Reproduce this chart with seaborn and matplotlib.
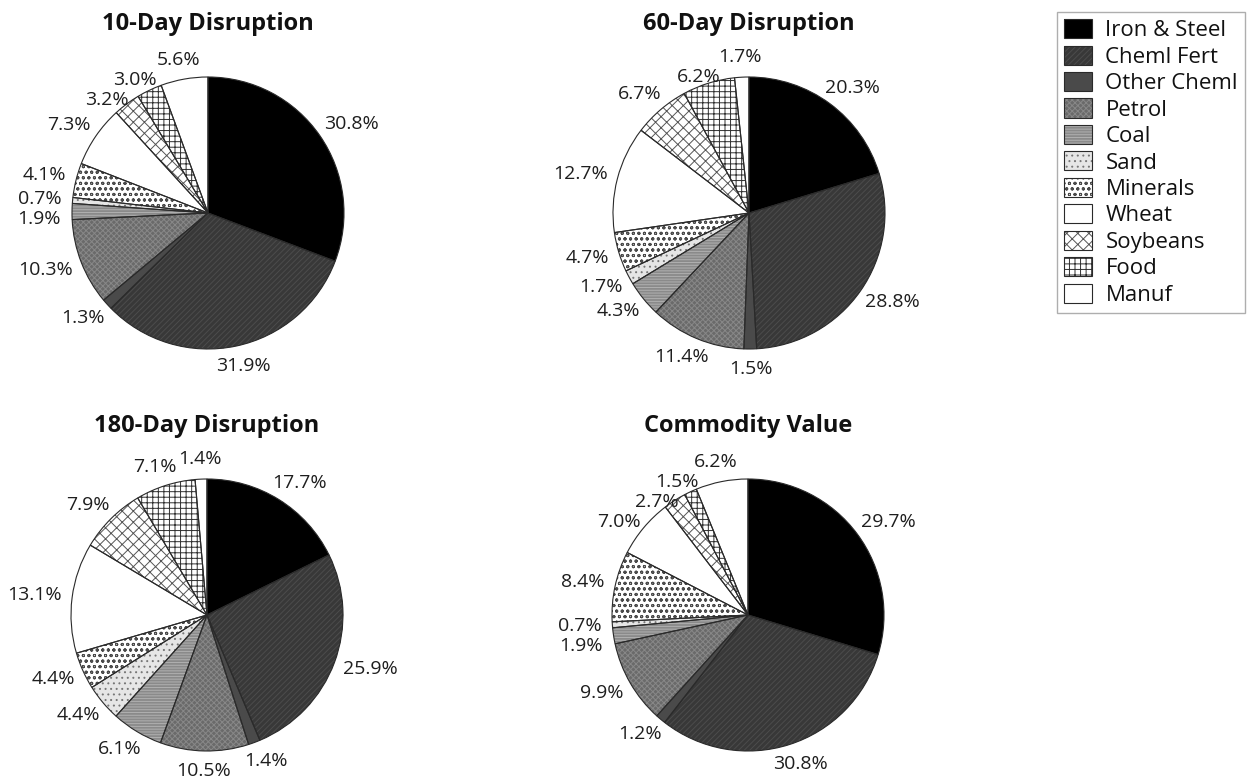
import numpy as np
import matplotlib
matplotlib.use("Agg")
import matplotlib.pyplot as plt
import seaborn as sns
from matplotlib.patches import Patch
from matplotlib.legend_handler import HandlerTuple

# ---- data -------------------------------------------------------------
commodities = ["Iron & Steel", "Cheml Fert", "Other Cheml", "Petrol", "Coal",
               "Sand", "Minerals", "Wheat", "Soybeans", "Food", "Manuf"]

disruption_10 = [30.8, 31.9, 1.3, 10.3, 1.9, 0.7, 4.1, 7.3, 3.2, 3.0, 5.6]
disruption_60 = [20.3, 28.8, 1.5, 11.4, 4.3, 1.7, 4.7, 12.7, 6.7, 6.2, 1.7]
disruption_180 = [17.7, 25.9, 1.4, 10.5, 6.1, 4.4, 4.4, 13.1, 7.9, 7.1, 1.4]
commodity_value = [29.7, 30.8, 1.2, 9.9, 1.9, 0.7, 8.4, 7.0, 2.7, 1.5, 6.2]

panel_titles = ["10-Day Disruption", "60-Day Disruption",
                "180-Day Disruption", "Commodity Value"]

# ---- styling ----------------------------------------------------------
fill_colors = ["#000000", "#383838", "#4a4a4a", "#6a6a6a", "#8a8a8a",
               "#e6e6e6", "#ffffff", "#ffffff", "#ffffff", "#ffffff", "#ffffff"]
hatches = [None, "//////", None, "xxxxxx", "------", "...", "ooo", None,
           "xxx", "+++", None]
hatch_colors = ["#000000", "#4c4c4c", "#4a4a4a", "#888888", "#b0b0b0",
                "#777777", "#4a4a4a", "#ffffff", "#555555", "#303030", "#ffffff"]
edge_color = "#2a2a2a"

sns.set_theme(style="white")
plt.rcParams["font.family"] = ["Open Sans", "DejaVu Sans"]
plt.rcParams["hatch.linewidth"] = 0.7

W, H, DPI = 1248, 780, 100
fig = plt.figure(figsize=(W / DPI, H / DPI), dpi=DPI)
fig.patch.set_facecolor("white")

R_PX = 136.0          # pie radius in pixels
HALF = 1.55           # axes half-extent in data units
centers_px = [(208, 213), (749, 213), (207, 615), (748, 615)]
series = [disruption_10, disruption_60, disruption_180, commodity_value]

LABEL_SIZE = 14
LABEL_COLOR = "#1e1e1e"


def draw_pie(ax, values):
    wedges, _ = ax.pie(values, startangle=90, counterclock=False,
                       colors=fill_colors, radius=1.0,
                       wedgeprops=dict(linewidth=0))
    for w, h, hc in zip(wedges, hatches, hatch_colors):
        w.set_edgecolor(hc)
        w.set_linewidth(0)
        if h:
            w.set_hatch(h)
    ax.pie(values, startangle=90, counterclock=False, radius=1.0,
           colors=["none"] * len(values),
           wedgeprops=dict(edgecolor=edge_color, linewidth=0.8, fill=False))


def place_labels(ax, values):
    renderer = fig.canvas.get_renderer()
    p0 = ax.transData.transform((0, 0))
    p1 = ax.transData.transform((1, 0))
    ppu = p1[0] - p0[0]
    total = float(sum(values))
    cum = np.concatenate([[0.0], np.cumsum(values)])
    items = []
    for i, v in enumerate(values):
        frac = (cum[i] + cum[i + 1]) / 2.0 / total
        theta = np.deg2rad(90.0 - 360.0 * frac)
        dx, dy = np.cos(theta), np.sin(theta)
        t = ax.text(0, 0, f"{v:.1f}%", ha="center", va="center",
                    fontsize=LABEL_SIZE, color=LABEL_COLOR, clip_on=False)
        bb = t.get_window_extent(renderer)
        w, h = bb.width / ppu, bb.height / ppu
        x = dx * 1.08 + dx * w / 2.0
        y = dy * 1.08 + dy * h / 2.0
        items.append({"t": t, "x": x, "y": y, "w": w, "h": h, "side": dx < 0})
    gap = 0.147
    for side in (True, False):
        grp = sorted([it for it in items if it["side"] == side],
                     key=lambda it: -it["y"])
        for j in range(1, len(grp)):
            for k in range(j):
                a, b = grp[k], grp[j]
                if abs(a["x"] - b["x"]) < (a["w"] + b["w"]) / 2.0 and a["y"] - b["y"] < gap:
                    b["y"] = a["y"] - gap
    for it in items:
        it["t"].set_position((it["x"], it["y"]))


for (cx, cy), vals, title in zip(centers_px, series, panel_titles):
    half_px = HALF * R_PX
    ax = fig.add_axes([(cx - half_px) / W, (H - cy - half_px) / H,
                       2 * half_px / W, 2 * half_px / H])
    draw_pie(ax, vals)
    ax.set_xlim(-HALF, HALF)
    ax.set_ylim(-HALF, HALF)
    ax.set_axis_off()
    ax.text(0, 1.345, title, ha="center", va="baseline", fontsize=17,
            fontweight="bold", color="#111111")
    place_labels(ax, vals)

# ---- legend -------------------------------------------------------------
handles = []
for fc, h, hc in zip(fill_colors, hatches, hatch_colors):
    base = Patch(facecolor=fc, hatch=h, edgecolor=hc, linewidth=0)
    outline = Patch(facecolor="none", edgecolor=edge_color, linewidth=0.8)
    handles.append((base, outline))

leg = fig.legend(handles, commodities, loc="upper right",
                 bbox_to_anchor=(1245 / W, 1 - 12 / H),
                 handler_map={tuple: HandlerTuple(ndivide=1, pad=0)},
                 frameon=True, fancybox=False, edgecolor="#9a9a9a",
                 fontsize=16, handlelength=1.25, handleheight=0.95,
                 handletextpad=0.6, labelspacing=0.19, borderpad=0.32,
                 borderaxespad=0)
leg.get_frame().set_linewidth(1.0)
for txt in leg.get_texts():
    txt.set_color("#111111")

fig.savefig("out.png", dpi=DPI, facecolor="white")
